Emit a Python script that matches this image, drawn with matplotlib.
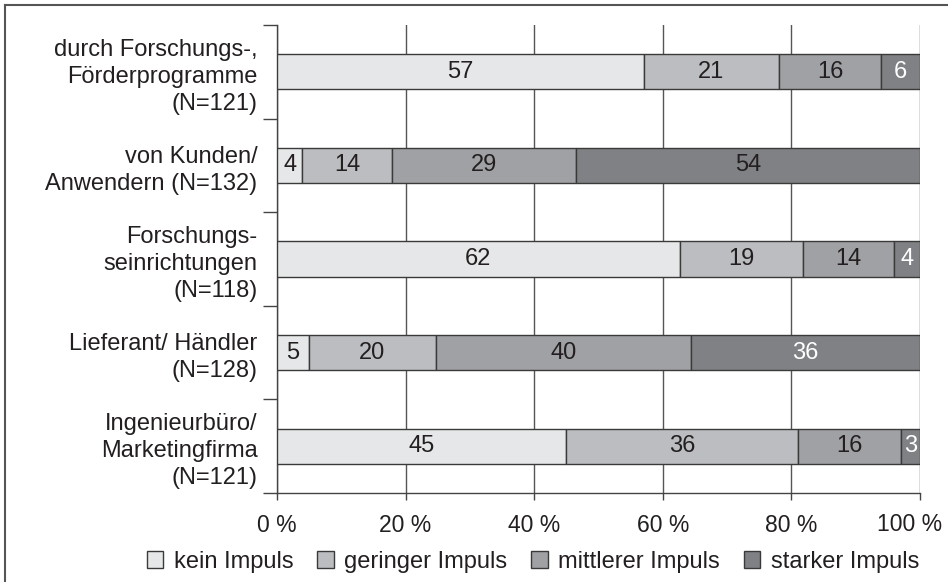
import numpy as np
import matplotlib.pyplot as plt
from matplotlib.lines import Line2D
from matplotlib.patches import Patch

plt.rcParams['font.family'] = ['Liberation Sans', 'DejaVu Sans']

# Kategorien (Impulsquellen) und Anteile in Prozent
categories = [
    "durch Forschungs-,\nFörderprogramme\n(N=121)",
    "von Kunden/\nAnwendern (N=132)",
    "Forschungs-\nseinrichtungen\n(N=118)",
    "Lieferant/ Händler\n(N=128)",
    "Ingenieurbüro/\nMarketingfirma\n(N=121)",
]
series_names = ["kein Impuls", "geringer Impuls", "mittlerer Impuls", "starker Impuls"]
kein = [57, 4, 62, 5, 45]
geringer = [21, 14, 19, 20, 36]
mittlerer = [16, 29, 14, 40, 16]
starker = [6, 54, 4, 36, 3]
x_ticks = [0, 20, 40, 60, 80, 100]

colors = ["#e6e7e8", "#bcbdc0", "#a0a1a4", "#808184"]
text_dark = "#231f20"
fs = 17

values = np.array([kein, geringer, mittlerer, starker], dtype=float)
# auf 100 % normieren (Rundungsdifferenzen)
shares = values / values.sum(axis=0) * 100

fig = plt.figure(figsize=(9.48, 5.82), dpi=100)
ax = fig.add_axes([277 / 948, 1 - 493 / 582, (920 - 277) / 948, (493 - 25) / 582])

y = np.arange(len(categories))
left = np.zeros(len(categories))
for i, name in enumerate(series_names):
    ax.barh(y, shares[i], left=left, height=0.375, color=colors[i],
            edgecolor="#3a3a3a", linewidth=1.0, label=name, zorder=3)
    for j in range(len(categories)):
        val = int(values[i, j])
        cx = left[j] + shares[i, j] / 2
        tc = "white" if (i == 3 and j != 1) else text_dark
        ax.text(cx, y[j], str(val), ha="center", va="center",
                fontsize=fs, color=tc, zorder=4)
    left += shares[i]

ax.set_xlim(0, 100)
ax.set_ylim(len(categories) - 0.5, -0.5)
ax.set_xticks(x_ticks)
tick_labels = [f"{t} %" for t in x_ticks]
ax.set_xticklabels(tick_labels[:-1] + [""], fontsize=16.5, color=text_dark)
# "100 %" etwas nach links gerückt, damit es ins Bild passt
ax.text(x_ticks[-1] - 1.7, -0.0665, tick_labels[-1], transform=ax.get_xaxis_transform(),
        ha="center", va="center", fontsize=16.5, color=text_dark)
ax.grid(axis="x", color="#555555", linewidth=1.0, zorder=0)

ax.set_yticks(y)
ax.set_yticklabels(categories, fontsize=fs, color=text_dark, linespacing=1.3)
ax.set_yticks(np.arange(len(categories) + 1) - 0.5, minor=True)
ax.tick_params(axis="y", which="major", length=0, pad=14)
ax.tick_params(axis="y", which="minor", length=10, width=1.0, color="#444444")
ax.tick_params(axis="x", length=5, width=1.0, color="#444444", pad=10)

for s in ["top", "right"]:
    ax.spines[s].set_visible(False)
for s in ["left", "bottom"]:
    ax.spines[s].set_color("#444444")
    ax.spines[s].set_linewidth(1.0)

handles = [Patch(facecolor=c, edgecolor="#3a3a3a", linewidth=1.0) for c in colors]
fig.legend(handles, series_names, loc="center", bbox_to_anchor=(533 / 948, 1 - 562 / 582),
           ncol=4, frameon=False, fontsize=fs, handlelength=0.7, handleheight=0.7,
           handletextpad=0.45, columnspacing=1.0, labelcolor=text_dark,
           borderpad=0.2)

# Rahmen links und oben
fig.add_artist(Line2D([5 / 948, 5 / 948], [0, 1 - 5 / 582], color="#555555", linewidth=1.5,
                      transform=fig.transFigure))
fig.add_artist(Line2D([5 / 948, 1], [1 - 5 / 582, 1 - 5 / 582], color="#555555", linewidth=1.5,
                      transform=fig.transFigure))

fig.savefig("out.png", dpi=100)
